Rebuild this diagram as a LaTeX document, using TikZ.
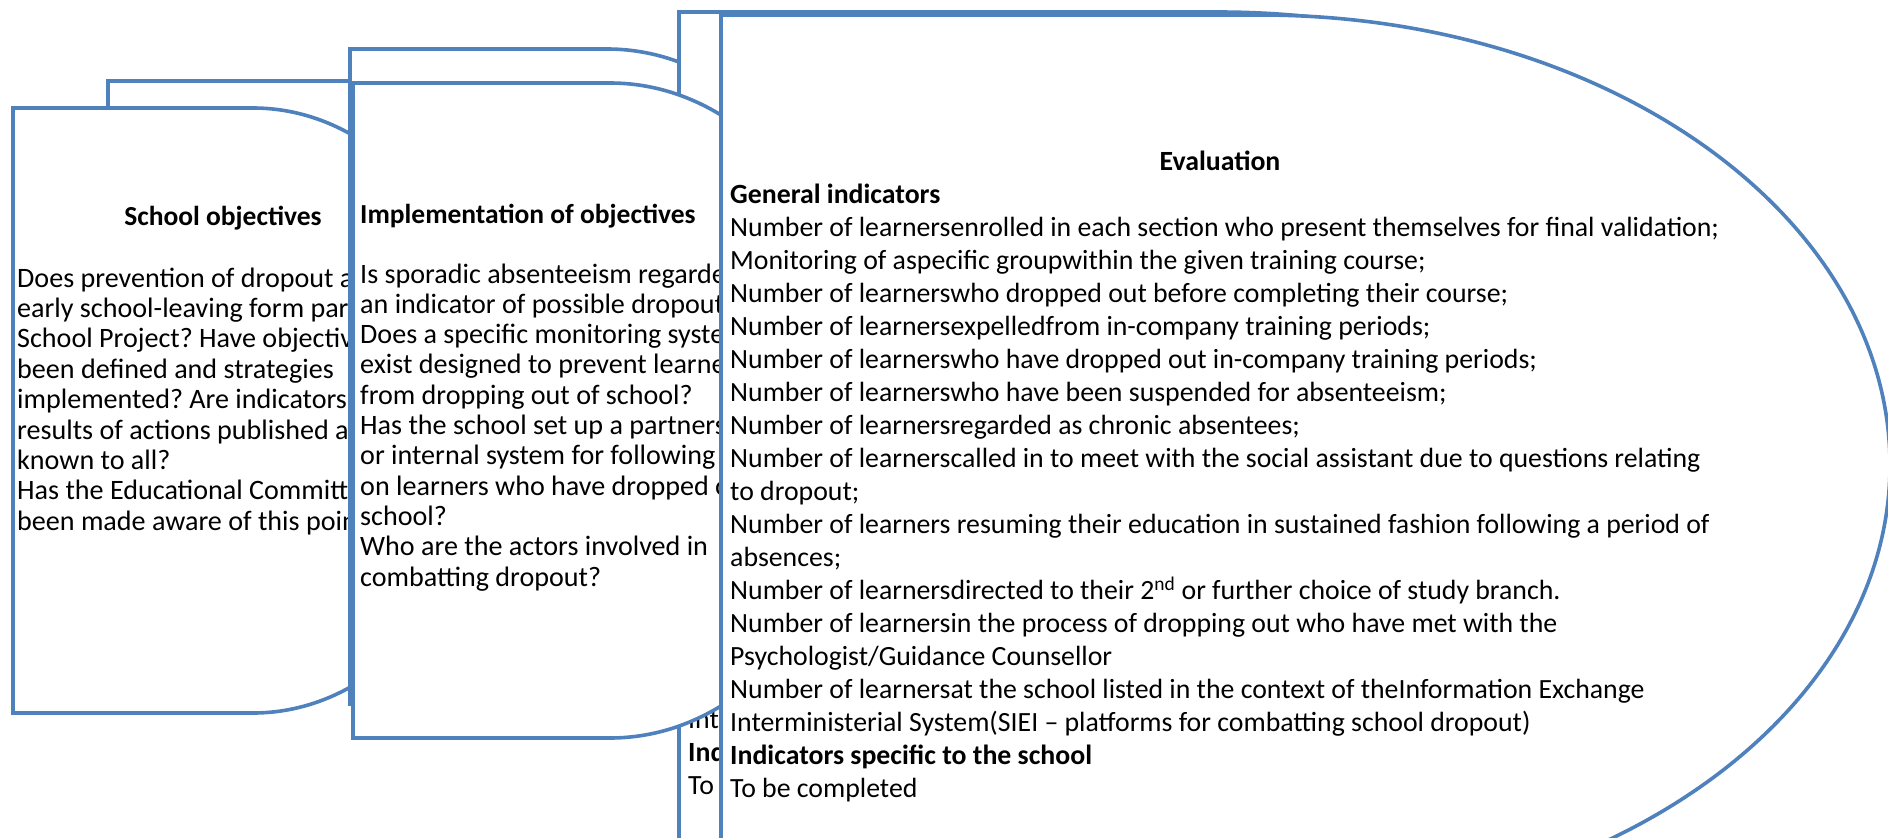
\documentclass[tikz,border=0pt]{standalone}
\usepackage{fontspec}
\setmainfont{Carlito}
\frenchspacing
\definecolor{shpblue}{RGB}{79,129,189}
\tikzset{
  shp/.style={draw=shpblue, line width=3.6pt, fill=white, line join=miter},
  bodytxt/.style={anchor=base west, inner sep=0pt, text=black, font=\fontsize{28.1}{30}\selectfont},
  headtxt/.style={anchor=base, inner sep=0pt, text=black, font=\fontsize{27.5}{30}\selectfont\bfseries},
  evaltxt/.style={anchor=base west, inner sep=0pt, text=black, font=\fontsize{27.8}{33}\selectfont},
  evalbold/.style={evaltxt, font=\fontsize{27.8}{33}\selectfont\bfseries},
}
% delay shape: left, top, flat length, x radius, y radius
\newcommand\dshape[5]{\draw[shp] (#1,-#2) -- ++(#3,0) arc[start angle=90,end angle=-90,x radius=#4pt,y radius=#5pt] -- ++(-#3,0) -- cycle;}
\newcommand\tline[5]{\node[#1] (#2) at (#3,-#4) {#5};}
\begin{document}
\begin{tikzpicture}[x=1pt,y=1pt]
\useasboundingbox (0,0) rectangle (1888,-838);
\clip (0,0) rectangle (1888,-838);
% ---------- School objectives ----------
\dshape{108}{81}{240}{240}{302.5}
\dshape{13}{108}{240}{240}{302.5}
\tline{headtxt}{h1}{223}{225}{School objectives}
\tline{bodytxt}{a0}{17}{287}{Does prevention of dropout and}
\tline{bodytxt}{a1}{17}{317.4}{early school-leaving form part of the}
\tline{bodytxt}{a2}{17}{347.8}{School Project? Have objectives}
\tline{bodytxt}{a3}{17}{378.2}{been defined and strategies}
\tline{bodytxt}{a4}{17}{408.6}{implemented? Are indicators and}
\tline{bodytxt}{a5}{17}{439}{results of actions published and}
\tline{bodytxt}{a6}{17}{469.4}{known to all?}
\tline{bodytxt}{a7}{17}{499.8}{Has the Educational Committee}
\tline{bodytxt}{a8}{17}{530.2}{been made aware of this point?}
% ---------- back shapes of 2 and 3 ----------
\dshape{350}{49}{257}{257}{327.5}
\dshape{679}{12}{539}{630}{450}
\tline{evaltxt}{c17}{688}{728}{Int}
\tline{evalbold}{c18}{688}{761}{Ind}
\tline{evaltxt}{c19}{688}{794}{To}
% ---------- Implementation of objectives ----------
\dshape{353}{83}{257}{257}{327.5}
\tline{bodytxt,font=\fontsize{27.5}{30}\selectfont\bfseries}{h2}{360}{223}{Implementation of objectives}
\tline{bodytxt}{b0}{360}{283}{Is sporadic absenteeism regarded as}
\tline{bodytxt}{b1}{360}{313.3}{an indicator of possible dropout?}
\tline{bodytxt}{b2}{360}{343.6}{Does a specific monitoring system}
\tline{bodytxt}{b3}{360}{373.9}{exist designed to prevent learners}
\tline{bodytxt}{b4}{360}{404.2}{from dropping out of school?}
\tline{bodytxt}{b5}{360}{434.5}{Has the school set up a partnership}
\tline{bodytxt}{b6}{360}{464.8}{or internal system for following up}
\tline{bodytxt}{b7}{360}{495.1}{on learners who have dropped out of}
\tline{bodytxt}{b8}{360}{525.4}{school?}
\tline{bodytxt}{b9}{360}{555.7}{Who are the actors involved in}
\tline{bodytxt}{b10}{360}{586}{combatting dropout?}
% ---------- Evaluation ----------
\dshape{721}{15}{539}{630}{450}
\node[anchor=base, inner sep=0pt, font=\fontsize{27.8}{33}\selectfont\bfseries] (h3) at (1220,-170) {Evaluation};
\tline{evalbold}{e1}{730}{203}{General indicators}
\tline{evaltxt}{e2}{730}{236}{Number of learnersenrolled in each section who present themselves for final validation;}
\tline{evaltxt}{e3}{730}{269}{Monitoring of aspecific groupwithin the given training course;}
\tline{evaltxt}{e4}{730}{302}{Number of learnerswho dropped out before completing their course;}
\tline{evaltxt}{e5}{730}{335}{Number of learnersexpelledfrom in-company training periods;}
\tline{evaltxt}{e6}{730}{368}{Number of learnerswho have dropped out in-company training periods;}
\tline{evaltxt}{e7}{730}{401.5}{Number of learnerswho have been suspended for absenteeism;}
\tline{evaltxt}{e8}{730}{434.5}{Number of learnersregarded as chronic absentees;}
\tline{evaltxt}{e9}{730}{467.5}{Number of learnerscalled in to meet with the social assistant due to questions relating}
\tline{evaltxt}{e10}{730}{500.5}{to dropout;}
\tline{evaltxt}{e11}{730}{533.5}{Number of learners resuming their education in sustained fashion following a period of}
\tline{evaltxt}{e12}{730}{566.5}{absences;}
\tline{evaltxt}{e13}{730}{599.5}{Number of learnersdirected to their 2\textsuperscript{nd} or further choice of study branch.}
\tline{evaltxt}{e14}{730}{632.5}{Number of learnersin the process of dropping out who have met with the}
\tline{evaltxt}{e15}{730}{665.5}{Psychologist/Guidance Counsellor}
\tline{evaltxt}{e16}{730}{698.5}{Number of learnersat the school listed in the context of theInformation Exchange}
\tline{evaltxt}{e17}{730}{731.5}{Interministerial System(SIEI -- platforms for combatting school dropout)}
\tline{evalbold}{e18}{730}{764.5}{Indicators specific to the school}
\tline{evaltxt}{e19}{730}{797.5}{To be completed}
\end{tikzpicture}
\end{document}
